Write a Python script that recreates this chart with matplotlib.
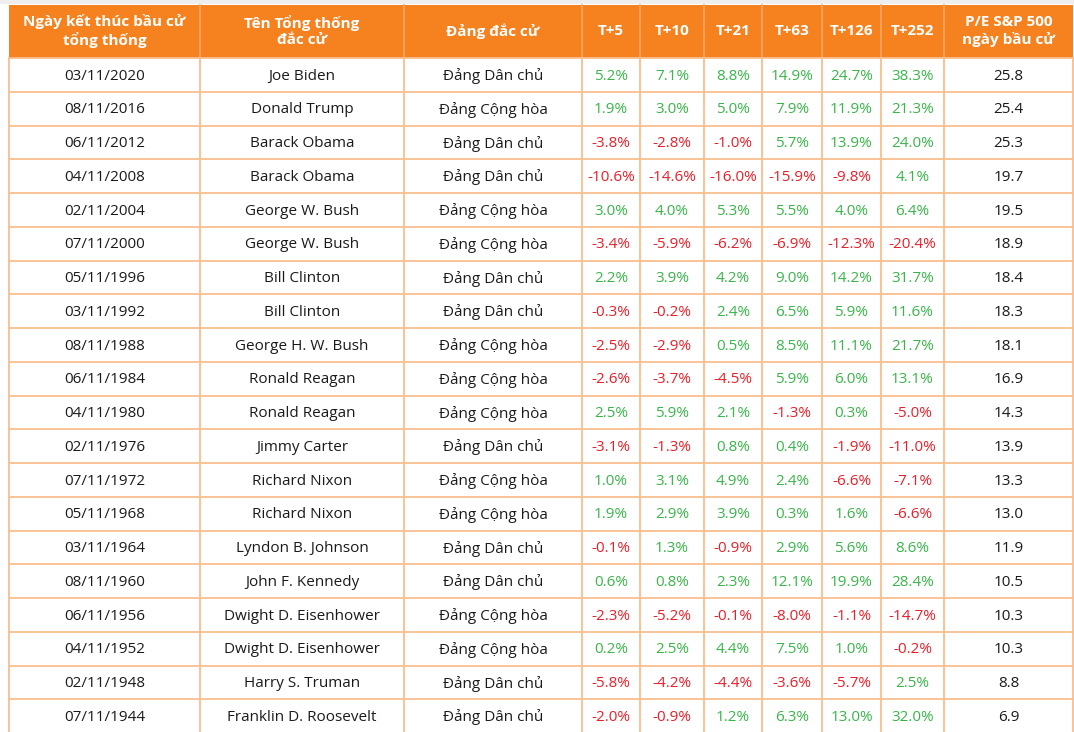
import matplotlib
matplotlib.use("Agg")
import matplotlib.pyplot as plt
from matplotlib.patches import Rectangle

plt.rcParams['font.family'] = ['Open Sans', 'DejaVu Sans']

headers = ["Ngày kết thúc bầu cử\ntổng thống", "Tên Tổng thống\nđắc cử", "Đảng đắc cử",
           "T+5", "T+10", "T+21", "T+63", "T+126", "T+252", "P/E S&P 500\nngày bầu cử"]

dates = ["03/11/2020", "08/11/2016", "06/11/2012", "04/11/2008", "02/11/2004", "07/11/2000",
         "05/11/1996", "03/11/1992", "08/11/1988", "06/11/1984", "04/11/1980", "02/11/1976",
         "07/11/1972", "05/11/1968", "03/11/1964", "08/11/1960", "06/11/1956", "04/11/1952",
         "02/11/1948", "07/11/1944"]
names = ["Joe Biden", "Donald Trump", "Barack Obama", "Barack Obama", "George W. Bush",
         "George W. Bush", "Bill Clinton", "Bill Clinton", "George H. W. Bush", "Ronald Reagan",
         "Ronald Reagan", "Jimmy Carter", "Richard Nixon", "Richard Nixon", "Lyndon B. Johnson",
         "John F. Kennedy", "Dwight D. Eisenhower", "Dwight D. Eisenhower", "Harry S. Truman",
         "Franklin D. Roosevelt"]
parties = ["Đảng Dân chủ", "Đảng Cộng hòa", "Đảng Dân chủ", "Đảng Dân chủ", "Đảng Cộng hòa",
           "Đảng Cộng hòa", "Đảng Dân chủ", "Đảng Dân chủ", "Đảng Cộng hòa", "Đảng Cộng hòa",
           "Đảng Cộng hòa", "Đảng Dân chủ", "Đảng Cộng hòa", "Đảng Cộng hòa", "Đảng Dân chủ",
           "Đảng Dân chủ", "Đảng Cộng hòa", "Đảng Cộng hòa", "Đảng Dân chủ", "Đảng Dân chủ"]
t5 = [5.2, 1.9, -3.8, -10.6, 3.0, -3.4, 2.2, -0.3, -2.5, -2.6, 2.5, -3.1, 1.0, 1.9, -0.1, 0.6, -2.3, 0.2, -5.8, -2.0]
t10 = [7.1, 3.0, -2.8, -14.6, 4.0, -5.9, 3.9, -0.2, -2.9, -3.7, 5.9, -1.3, 3.1, 2.9, 1.3, 0.8, -5.2, 2.5, -4.2, -0.9]
t21 = [8.8, 5.0, -1.0, -16.0, 5.3, -6.2, 4.2, 2.4, 0.5, -4.5, 2.1, 0.8, 4.9, 3.9, -0.9, 2.3, -0.1, 4.4, -4.4, 1.2]
t63 = [14.9, 7.9, 5.7, -15.9, 5.5, -6.9, 9.0, 6.5, 8.5, 5.9, -1.3, 0.4, 2.4, 0.3, 2.9, 12.1, -8.0, 7.5, -3.6, 6.3]
t126 = [24.7, 11.9, 13.9, -9.8, 4.0, -12.3, 14.2, 5.9, 11.1, 6.0, 0.3, -1.9, -6.6, 1.6, 5.6, 19.9, -1.1, 1.0, -5.7, 13.0]
t252 = [38.3, 21.3, 24.0, 4.1, 6.4, -20.4, 31.7, 11.6, 21.7, 13.1, -5.0, -11.0, -7.1, -6.6, 8.6, 28.4, -14.7, -0.2, 2.5, 32.0]
pe = [25.8, 25.4, 25.3, 19.7, 19.5, 18.9, 18.4, 18.3, 18.1, 16.9, 14.3, 13.9, 13.3, 13.0, 11.9, 10.5, 10.3, 10.3, 8.8, 6.9]

W, H = 1074, 732
col_edges = [9, 200, 404, 582, 640, 704, 762, 822, 881, 944, 1073]
top, header_bottom = 5, 58
row_h = 33.75

ORANGE = "#F5821F"
GRID = "#F9BE8E"
HDR_GRID = "#F8A560"
GREEN = "#3AB54A"
RED = "#E8202A"
TEXT = "#1a1a1a"

fig = plt.figure(figsize=(W / 100, H / 100), dpi=100)
ax = fig.add_axes([0, 0, 1, 1])
ax.set_xlim(0, W)
ax.set_ylim(H, 0)
ax.axis("off")

ax.add_patch(Rectangle((0, 0), W, 4, color="#EEEEEE", lw=0))
ax.add_patch(Rectangle((col_edges[0], top), col_edges[-1] - col_edges[0], header_bottom - top,
                       color=ORANGE, lw=0))
for x in col_edges[1:-1]:
    ax.plot([x, x], [top, header_bottom], color=HDR_GRID, lw=1.2)

n = len(dates)
bottom = header_bottom + n * row_h
for x in col_edges:
    ax.plot([x, x], [header_bottom, bottom], color=GRID, lw=1.3)
for i in range(n + 1):
    y = header_bottom + i * row_h
    ax.plot([col_edges[0], col_edges[-1]], [y, y], color=GRID, lw=1.3)

centers = [(col_edges[i] + col_edges[i + 1]) / 2 for i in range(len(col_edges) - 1)]
for c, h in zip(centers, headers):
    ax.text(c, (top + header_bottom) / 2 - 0.5, h, ha="center", va="center", color="white",
            fontsize=11, fontweight="bold", linespacing=1.2)

returns = [t5, t10, t21, t63, t126, t252]
for i in range(n):
    y = header_bottom + (i + 0.5) * row_h + 1.2
    ax.text(centers[0], y, dates[i], ha="center", va="center", fontsize=11, color=TEXT)
    ax.text(centers[1], y, names[i], ha="center", va="center", fontsize=11, color=TEXT)
    ax.text(centers[2], y, parties[i], ha="center", va="center", fontsize=11, color=TEXT)
    for j, col in enumerate(returns):
        v = col[i]
        ax.text(centers[3 + j], y, f"{v:.1f}%", ha="center", va="center", fontsize=11,
                color=GREEN if v >= 0 else RED)
    ax.text(centers[9], y, f"{pe[i]:.1f}", ha="center", va="center", fontsize=11, color=TEXT)

fig.savefig("out.png", dpi=100)
